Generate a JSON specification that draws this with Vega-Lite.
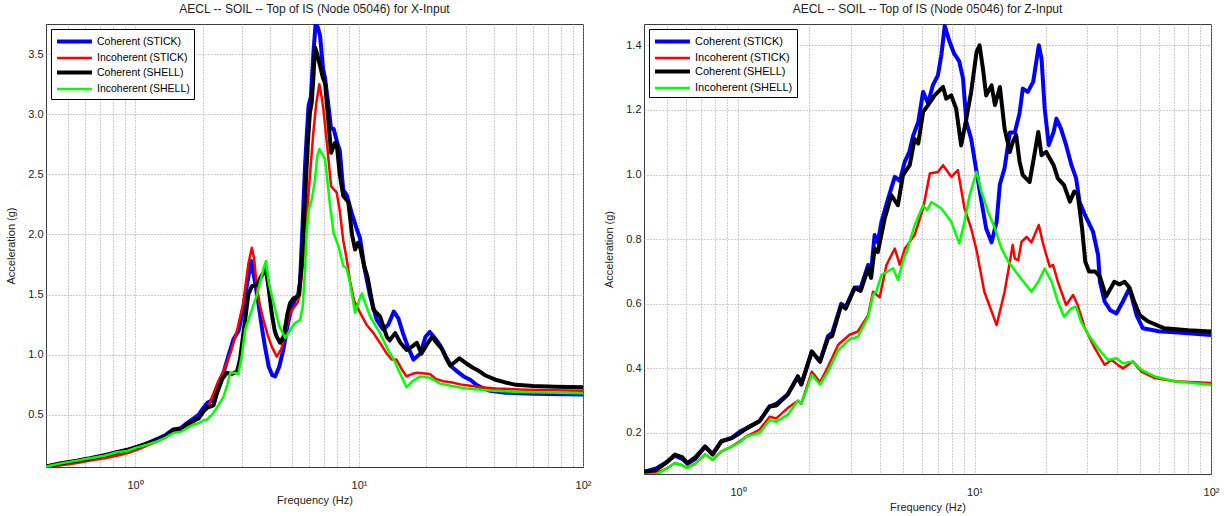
{
"$schema": "https://vega.github.io/schema/vega-lite/v6.json",
"background": "white",
"padding": {"left": 4, "top": 2, "right": 5, "bottom": 5},
"config": {
  "view": {"stroke": "#3a3a3a", "strokeWidth": 1},
  "font": "Liberation Sans",
  "axis": {"labelFont": "Liberation Sans", "titleFont": "Liberation Sans", "labelFontSize": 11, "titleFontSize": 11, "titleFontWeight": "normal", "labelColor": "#222222", "titleColor": "#222222", "gridColor": "#9a9a9a", "gridDash": [1, 2], "gridWidth": 1, "ticks": false, "domain": false},
  "title": {"font": "Liberation Sans", "fontSize": 12, "fontWeight": "normal", "color": "#222222", "offset": 8},
  "legend": {"orient": "top-left", "offset": 5, "strokeColor": "#000000", "fillColor": "#ffffff", "padding": 4, "symbolType": "M-1,0H4.38", "symbolSize": 169, "labelFontSize": 10.5, "labelFont": "Liberation Sans", "labelColor": "#000000", "rowPadding": 0, "labelOffset": 25, "cornerRadius": 0}
},
"datasets": {
"x": [
{"s":"Coherent (STICK)","f":0.40,"a":0.07},{"s":"Coherent (STICK)","f":0.46,"a":0.09},{"s":"Coherent (STICK)","f":0.55,"a":0.115},{"s":"Coherent (STICK)","f":0.63,"a":0.135},{"s":"Coherent (STICK)","f":0.73,"a":0.16},{"s":"Coherent (STICK)","f":0.83,"a":0.19},{"s":"Coherent (STICK)","f":0.92,"a":0.205},{"s":"Coherent (STICK)","f":1.02,"a":0.235},{"s":"Coherent (STICK)","f":1.12,"a":0.26},{"s":"Coherent (STICK)","f":1.25,"a":0.3},{"s":"Coherent (STICK)","f":1.36,"a":0.33},{"s":"Coherent (STICK)","f":1.48,"a":0.38},{"s":"Coherent (STICK)","f":1.6,"a":0.39},{"s":"Coherent (STICK)","f":1.7,"a":0.43},{"s":"Coherent (STICK)","f":1.82,"a":0.47},{"s":"Coherent (STICK)","f":1.92,"a":0.5},{"s":"Coherent (STICK)","f":2.02,"a":0.56},{"s":"Coherent (STICK)","f":2.1,"a":0.6},{"s":"Coherent (STICK)","f":2.2,"a":0.62},{"s":"Coherent (STICK)","f":2.32,"a":0.72},{"s":"Coherent (STICK)","f":2.48,"a":0.85},{"s":"Coherent (STICK)","f":2.6,"a":0.98},{"s":"Coherent (STICK)","f":2.75,"a":1.13},{"s":"Coherent (STICK)","f":2.9,"a":1.2},{"s":"Coherent (STICK)","f":3.05,"a":1.4},{"s":"Coherent (STICK)","f":3.15,"a":1.57},{"s":"Coherent (STICK)","f":3.3,"a":1.78},{"s":"Coherent (STICK)","f":3.4,"a":1.65},{"s":"Coherent (STICK)","f":3.55,"a":1.43},{"s":"Coherent (STICK)","f":3.7,"a":1.2},{"s":"Coherent (STICK)","f":3.8,"a":1.07},{"s":"Coherent (STICK)","f":3.95,"a":0.9},{"s":"Coherent (STICK)","f":4.1,"a":0.83},{"s":"Coherent (STICK)","f":4.22,"a":0.82},{"s":"Coherent (STICK)","f":4.4,"a":0.9},{"s":"Coherent (STICK)","f":4.6,"a":1.05},{"s":"Coherent (STICK)","f":4.8,"a":1.25},{"s":"Coherent (STICK)","f":4.95,"a":1.36},{"s":"Coherent (STICK)","f":5.18,"a":1.46},{"s":"Coherent (STICK)","f":5.35,"a":1.5},{"s":"Coherent (STICK)","f":5.45,"a":1.6},{"s":"Coherent (STICK)","f":5.6,"a":2.1},{"s":"Coherent (STICK)","f":5.74,"a":2.57},{"s":"Coherent (STICK)","f":5.85,"a":2.85},{"s":"Coherent (STICK)","f":5.95,"a":3.07},{"s":"Coherent (STICK)","f":6.1,"a":3.15},{"s":"Coherent (STICK)","f":6.25,"a":3.5},{"s":"Coherent (STICK)","f":6.4,"a":3.76},{"s":"Coherent (STICK)","f":6.55,"a":3.72},{"s":"Coherent (STICK)","f":6.7,"a":3.65},{"s":"Coherent (STICK)","f":6.9,"a":3.38},{"s":"Coherent (STICK)","f":7.05,"a":3.3},{"s":"Coherent (STICK)","f":7.3,"a":3.07},{"s":"Coherent (STICK)","f":7.5,"a":2.88},{"s":"Coherent (STICK)","f":7.7,"a":2.88},{"s":"Coherent (STICK)","f":8.0,"a":2.76},{"s":"Coherent (STICK)","f":8.2,"a":2.7},{"s":"Coherent (STICK)","f":8.5,"a":2.37},{"s":"Coherent (STICK)","f":8.8,"a":2.33},{"s":"Coherent (STICK)","f":9.27,"a":2.18},{"s":"Coherent (STICK)","f":9.75,"a":2.05},{"s":"Coherent (STICK)","f":10.1,"a":1.97},{"s":"Coherent (STICK)","f":10.6,"a":1.71},{"s":"Coherent (STICK)","f":11.2,"a":1.49},{"s":"Coherent (STICK)","f":12.0,"a":1.29},{"s":"Coherent (STICK)","f":12.8,"a":1.21},{"s":"Coherent (STICK)","f":13.5,"a":1.25},{"s":"Coherent (STICK)","f":14.3,"a":1.36},{"s":"Coherent (STICK)","f":15.0,"a":1.3},{"s":"Coherent (STICK)","f":15.7,"a":1.18},{"s":"Coherent (STICK)","f":16.5,"a":1.07},{"s":"Coherent (STICK)","f":17.5,"a":0.96},{"s":"Coherent (STICK)","f":18.8,"a":1.01},{"s":"Coherent (STICK)","f":19.8,"a":1.15},{"s":"Coherent (STICK)","f":20.7,"a":1.19},{"s":"Coherent (STICK)","f":21.8,"a":1.14},{"s":"Coherent (STICK)","f":23.0,"a":1.08},{"s":"Coherent (STICK)","f":24.5,"a":0.98},{"s":"Coherent (STICK)","f":25.9,"a":0.9},{"s":"Coherent (STICK)","f":27.5,"a":0.86},{"s":"Coherent (STICK)","f":29.3,"a":0.82},{"s":"Coherent (STICK)","f":31.5,"a":0.79},{"s":"Coherent (STICK)","f":33.4,"a":0.75},{"s":"Coherent (STICK)","f":36,"a":0.72},{"s":"Coherent (STICK)","f":38.5,"a":0.7},{"s":"Coherent (STICK)","f":45,"a":0.685},{"s":"Coherent (STICK)","f":60,"a":0.675},{"s":"Coherent (STICK)","f":100,"a":0.67},
{"s":"Incoherent (STICK)","f":0.40,"a":0.065},{"s":"Incoherent (STICK)","f":0.46,"a":0.08},{"s":"Incoherent (STICK)","f":0.55,"a":0.1},{"s":"Incoherent (STICK)","f":0.63,"a":0.12},{"s":"Incoherent (STICK)","f":0.73,"a":0.14},{"s":"Incoherent (STICK)","f":0.83,"a":0.16},{"s":"Incoherent (STICK)","f":0.92,"a":0.18},{"s":"Incoherent (STICK)","f":1.02,"a":0.21},{"s":"Incoherent (STICK)","f":1.12,"a":0.24},{"s":"Incoherent (STICK)","f":1.25,"a":0.28},{"s":"Incoherent (STICK)","f":1.36,"a":0.31},{"s":"Incoherent (STICK)","f":1.48,"a":0.36},{"s":"Incoherent (STICK)","f":1.6,"a":0.37},{"s":"Incoherent (STICK)","f":1.7,"a":0.41},{"s":"Incoherent (STICK)","f":1.82,"a":0.44},{"s":"Incoherent (STICK)","f":1.92,"a":0.47},{"s":"Incoherent (STICK)","f":2.02,"a":0.52},{"s":"Incoherent (STICK)","f":2.12,"a":0.57},{"s":"Incoherent (STICK)","f":2.24,"a":0.68},{"s":"Incoherent (STICK)","f":2.35,"a":0.78},{"s":"Incoherent (STICK)","f":2.5,"a":0.88},{"s":"Incoherent (STICK)","f":2.66,"a":1.01},{"s":"Incoherent (STICK)","f":2.85,"a":1.2},{"s":"Incoherent (STICK)","f":3.04,"a":1.43},{"s":"Incoherent (STICK)","f":3.2,"a":1.75},{"s":"Incoherent (STICK)","f":3.32,"a":1.89},{"s":"Incoherent (STICK)","f":3.4,"a":1.8},{"s":"Incoherent (STICK)","f":3.49,"a":1.57},{"s":"Incoherent (STICK)","f":3.6,"a":1.42},{"s":"Incoherent (STICK)","f":3.74,"a":1.29},{"s":"Incoherent (STICK)","f":3.9,"a":1.17},{"s":"Incoherent (STICK)","f":4.07,"a":1.07},{"s":"Incoherent (STICK)","f":4.29,"a":0.985},{"s":"Incoherent (STICK)","f":4.5,"a":1.05},{"s":"Incoherent (STICK)","f":4.7,"a":1.2},{"s":"Incoherent (STICK)","f":4.92,"a":1.35},{"s":"Incoherent (STICK)","f":5.15,"a":1.4},{"s":"Incoherent (STICK)","f":5.3,"a":1.43},{"s":"Incoherent (STICK)","f":5.45,"a":1.5},{"s":"Incoherent (STICK)","f":5.6,"a":1.75},{"s":"Incoherent (STICK)","f":5.74,"a":1.95},{"s":"Incoherent (STICK)","f":5.95,"a":2.35},{"s":"Incoherent (STICK)","f":6.1,"a":2.6},{"s":"Incoherent (STICK)","f":6.25,"a":2.85},{"s":"Incoherent (STICK)","f":6.45,"a":3.1},{"s":"Incoherent (STICK)","f":6.65,"a":3.25},{"s":"Incoherent (STICK)","f":6.8,"a":3.15},{"s":"Incoherent (STICK)","f":6.93,"a":3.04},{"s":"Incoherent (STICK)","f":7.2,"a":2.74},{"s":"Incoherent (STICK)","f":7.5,"a":2.4},{"s":"Incoherent (STICK)","f":7.94,"a":2.35},{"s":"Incoherent (STICK)","f":8.2,"a":2.2},{"s":"Incoherent (STICK)","f":8.5,"a":1.95},{"s":"Incoherent (STICK)","f":8.8,"a":1.8},{"s":"Incoherent (STICK)","f":9.1,"a":1.62},{"s":"Incoherent (STICK)","f":9.5,"a":1.45},{"s":"Incoherent (STICK)","f":10.1,"a":1.35},{"s":"Incoherent (STICK)","f":10.8,"a":1.25},{"s":"Incoherent (STICK)","f":11.6,"a":1.18},{"s":"Incoherent (STICK)","f":12.4,"a":1.1},{"s":"Incoherent (STICK)","f":13.3,"a":1.01},{"s":"Incoherent (STICK)","f":14.0,"a":0.96},{"s":"Incoherent (STICK)","f":14.7,"a":0.96},{"s":"Incoherent (STICK)","f":15.5,"a":0.88},{"s":"Incoherent (STICK)","f":16.3,"a":0.82},{"s":"Incoherent (STICK)","f":17.2,"a":0.84},{"s":"Incoherent (STICK)","f":18.1,"a":0.85},{"s":"Incoherent (STICK)","f":20.7,"a":0.84},{"s":"Incoherent (STICK)","f":22,"a":0.8},{"s":"Incoherent (STICK)","f":23.8,"a":0.78},{"s":"Incoherent (STICK)","f":26,"a":0.77},{"s":"Incoherent (STICK)","f":29,"a":0.75},{"s":"Incoherent (STICK)","f":35,"a":0.73},{"s":"Incoherent (STICK)","f":41,"a":0.72},{"s":"Incoherent (STICK)","f":55,"a":0.71},{"s":"Incoherent (STICK)","f":100,"a":0.7},
{"s":"Coherent (SHELL)","f":0.40,"a":0.07},{"s":"Coherent (SHELL)","f":0.46,"a":0.097},{"s":"Coherent (SHELL)","f":0.55,"a":0.12},{"s":"Coherent (SHELL)","f":0.63,"a":0.14},{"s":"Coherent (SHELL)","f":0.73,"a":0.165},{"s":"Coherent (SHELL)","f":0.83,"a":0.19},{"s":"Coherent (SHELL)","f":0.92,"a":0.21},{"s":"Coherent (SHELL)","f":1.02,"a":0.235},{"s":"Coherent (SHELL)","f":1.12,"a":0.26},{"s":"Coherent (SHELL)","f":1.25,"a":0.29},{"s":"Coherent (SHELL)","f":1.36,"a":0.32},{"s":"Coherent (SHELL)","f":1.48,"a":0.375},{"s":"Coherent (SHELL)","f":1.6,"a":0.38},{"s":"Coherent (SHELL)","f":1.7,"a":0.42},{"s":"Coherent (SHELL)","f":1.82,"a":0.45},{"s":"Coherent (SHELL)","f":1.92,"a":0.47},{"s":"Coherent (SHELL)","f":2.02,"a":0.53},{"s":"Coherent (SHELL)","f":2.1,"a":0.56},{"s":"Coherent (SHELL)","f":2.24,"a":0.58},{"s":"Coherent (SHELL)","f":2.32,"a":0.68},{"s":"Coherent (SHELL)","f":2.45,"a":0.8},{"s":"Coherent (SHELL)","f":2.57,"a":0.85},{"s":"Coherent (SHELL)","f":2.7,"a":0.84},{"s":"Coherent (SHELL)","f":2.85,"a":0.86},{"s":"Coherent (SHELL)","f":2.94,"a":0.96},{"s":"Coherent (SHELL)","f":3.1,"a":1.29},{"s":"Coherent (SHELL)","f":3.2,"a":1.5},{"s":"Coherent (SHELL)","f":3.32,"a":1.57},{"s":"Coherent (SHELL)","f":3.5,"a":1.58},{"s":"Coherent (SHELL)","f":3.65,"a":1.65},{"s":"Coherent (SHELL)","f":3.84,"a":1.71},{"s":"Coherent (SHELL)","f":3.95,"a":1.55},{"s":"Coherent (SHELL)","f":4.07,"a":1.35},{"s":"Coherent (SHELL)","f":4.2,"a":1.2},{"s":"Coherent (SHELL)","f":4.29,"a":1.15},{"s":"Coherent (SHELL)","f":4.44,"a":1.1},{"s":"Coherent (SHELL)","f":4.6,"a":1.15},{"s":"Coherent (SHELL)","f":4.8,"a":1.35},{"s":"Coherent (SHELL)","f":4.92,"a":1.43},{"s":"Coherent (SHELL)","f":5.1,"a":1.47},{"s":"Coherent (SHELL)","f":5.25,"a":1.48},{"s":"Coherent (SHELL)","f":5.38,"a":1.5},{"s":"Coherent (SHELL)","f":5.55,"a":1.75},{"s":"Coherent (SHELL)","f":5.74,"a":2.3},{"s":"Coherent (SHELL)","f":5.9,"a":2.75},{"s":"Coherent (SHELL)","f":6.03,"a":3.01},{"s":"Coherent (SHELL)","f":6.15,"a":3.1},{"s":"Coherent (SHELL)","f":6.25,"a":3.3},{"s":"Coherent (SHELL)","f":6.36,"a":3.555},{"s":"Coherent (SHELL)","f":6.5,"a":3.5},{"s":"Coherent (SHELL)","f":6.7,"a":3.4},{"s":"Coherent (SHELL)","f":6.9,"a":3.3},{"s":"Coherent (SHELL)","f":7.05,"a":3.26},{"s":"Coherent (SHELL)","f":7.25,"a":3.0},{"s":"Coherent (SHELL)","f":7.5,"a":2.68},{"s":"Coherent (SHELL)","f":7.8,"a":2.76},{"s":"Coherent (SHELL)","f":7.94,"a":2.76},{"s":"Coherent (SHELL)","f":8.2,"a":2.5},{"s":"Coherent (SHELL)","f":8.5,"a":2.32},{"s":"Coherent (SHELL)","f":8.95,"a":2.27},{"s":"Coherent (SHELL)","f":9.3,"a":2.0},{"s":"Coherent (SHELL)","f":9.6,"a":1.875},{"s":"Coherent (SHELL)","f":9.9,"a":1.93},{"s":"Coherent (SHELL)","f":10.1,"a":1.9},{"s":"Coherent (SHELL)","f":10.5,"a":1.75},{"s":"Coherent (SHELL)","f":10.9,"a":1.65},{"s":"Coherent (SHELL)","f":11.6,"a":1.375},{"s":"Coherent (SHELL)","f":12.4,"a":1.32},{"s":"Coherent (SHELL)","f":13.3,"a":1.15},{"s":"Coherent (SHELL)","f":13.7,"a":1.12},{"s":"Coherent (SHELL)","f":14.5,"a":1.18},{"s":"Coherent (SHELL)","f":15.3,"a":1.1},{"s":"Coherent (SHELL)","f":16.3,"a":1.04},{"s":"Coherent (SHELL)","f":17.3,"a":1.07},{"s":"Coherent (SHELL)","f":18.1,"a":1.1},{"s":"Coherent (SHELL)","f":19.0,"a":1.01},{"s":"Coherent (SHELL)","f":20.0,"a":1.08},{"s":"Coherent (SHELL)","f":21.2,"a":1.15},{"s":"Coherent (SHELL)","f":22.2,"a":1.1},{"s":"Coherent (SHELL)","f":23.4,"a":1.05},{"s":"Coherent (SHELL)","f":24.5,"a":0.97},{"s":"Coherent (SHELL)","f":25.5,"a":0.91},{"s":"Coherent (SHELL)","f":26.8,"a":0.94},{"s":"Coherent (SHELL)","f":28.1,"a":0.97},{"s":"Coherent (SHELL)","f":30,"a":0.93},{"s":"Coherent (SHELL)","f":32.4,"a":0.89},{"s":"Coherent (SHELL)","f":34,"a":0.87},{"s":"Coherent (SHELL)","f":36.5,"a":0.83},{"s":"Coherent (SHELL)","f":41.1,"a":0.79},{"s":"Coherent (SHELL)","f":45,"a":0.77},{"s":"Coherent (SHELL)","f":50,"a":0.75},{"s":"Coherent (SHELL)","f":60,"a":0.74},{"s":"Coherent (SHELL)","f":75,"a":0.735},{"s":"Coherent (SHELL)","f":100,"a":0.73},
{"s":"Incoherent (SHELL)","f":0.40,"a":0.07},{"s":"Incoherent (SHELL)","f":0.46,"a":0.095},{"s":"Incoherent (SHELL)","f":0.55,"a":0.12},{"s":"Incoherent (SHELL)","f":0.63,"a":0.14},{"s":"Incoherent (SHELL)","f":0.73,"a":0.16},{"s":"Incoherent (SHELL)","f":0.83,"a":0.19},{"s":"Incoherent (SHELL)","f":0.92,"a":0.2},{"s":"Incoherent (SHELL)","f":1.02,"a":0.23},{"s":"Incoherent (SHELL)","f":1.12,"a":0.25},{"s":"Incoherent (SHELL)","f":1.25,"a":0.28},{"s":"Incoherent (SHELL)","f":1.36,"a":0.31},{"s":"Incoherent (SHELL)","f":1.48,"a":0.35},{"s":"Incoherent (SHELL)","f":1.6,"a":0.36},{"s":"Incoherent (SHELL)","f":1.7,"a":0.39},{"s":"Incoherent (SHELL)","f":1.82,"a":0.42},{"s":"Incoherent (SHELL)","f":1.92,"a":0.43},{"s":"Incoherent (SHELL)","f":2.02,"a":0.455},{"s":"Incoherent (SHELL)","f":2.09,"a":0.46},{"s":"Incoherent (SHELL)","f":2.2,"a":0.5},{"s":"Incoherent (SHELL)","f":2.32,"a":0.56},{"s":"Incoherent (SHELL)","f":2.48,"a":0.65},{"s":"Incoherent (SHELL)","f":2.58,"a":0.75},{"s":"Incoherent (SHELL)","f":2.66,"a":0.85},{"s":"Incoherent (SHELL)","f":2.8,"a":0.85},{"s":"Incoherent (SHELL)","f":2.89,"a":0.84},{"s":"Incoherent (SHELL)","f":3.0,"a":1.0},{"s":"Incoherent (SHELL)","f":3.1,"a":1.21},{"s":"Incoherent (SHELL)","f":3.32,"a":1.375},{"s":"Incoherent (SHELL)","f":3.5,"a":1.5},{"s":"Incoherent (SHELL)","f":3.61,"a":1.6},{"s":"Incoherent (SHELL)","f":3.75,"a":1.72},{"s":"Incoherent (SHELL)","f":3.84,"a":1.78},{"s":"Incoherent (SHELL)","f":3.95,"a":1.6},{"s":"Incoherent (SHELL)","f":4.15,"a":1.43},{"s":"Incoherent (SHELL)","f":4.4,"a":1.24},{"s":"Incoherent (SHELL)","f":4.68,"a":1.14},{"s":"Incoherent (SHELL)","f":4.9,"a":1.2},{"s":"Incoherent (SHELL)","f":5.15,"a":1.26},{"s":"Incoherent (SHELL)","f":5.45,"a":1.29},{"s":"Incoherent (SHELL)","f":5.6,"a":1.4},{"s":"Incoherent (SHELL)","f":5.74,"a":1.71},{"s":"Incoherent (SHELL)","f":5.83,"a":2.01},{"s":"Incoherent (SHELL)","f":5.95,"a":2.2},{"s":"Incoherent (SHELL)","f":6.15,"a":2.29},{"s":"Incoherent (SHELL)","f":6.35,"a":2.45},{"s":"Incoherent (SHELL)","f":6.5,"a":2.65},{"s":"Incoherent (SHELL)","f":6.65,"a":2.71},{"s":"Incoherent (SHELL)","f":6.8,"a":2.68},{"s":"Incoherent (SHELL)","f":7.05,"a":2.625},{"s":"Incoherent (SHELL)","f":7.4,"a":2.26},{"s":"Incoherent (SHELL)","f":7.7,"a":2.01},{"s":"Incoherent (SHELL)","f":8.1,"a":1.9},{"s":"Incoherent (SHELL)","f":8.5,"a":1.74},{"s":"Incoherent (SHELL)","f":8.8,"a":1.72},{"s":"Incoherent (SHELL)","f":9.1,"a":1.6},{"s":"Incoherent (SHELL)","f":9.4,"a":1.45},{"s":"Incoherent (SHELL)","f":9.6,"a":1.35},{"s":"Incoherent (SHELL)","f":10.0,"a":1.45},{"s":"Incoherent (SHELL)","f":10.3,"a":1.51},{"s":"Incoherent (SHELL)","f":10.7,"a":1.42},{"s":"Incoherent (SHELL)","f":11.2,"a":1.32},{"s":"Incoherent (SHELL)","f":12.4,"a":1.18},{"s":"Incoherent (SHELL)","f":13.3,"a":1.06},{"s":"Incoherent (SHELL)","f":14.3,"a":0.96},{"s":"Incoherent (SHELL)","f":15.2,"a":0.85},{"s":"Incoherent (SHELL)","f":16.3,"a":0.73},{"s":"Incoherent (SHELL)","f":17.3,"a":0.78},{"s":"Incoherent (SHELL)","f":18.7,"a":0.82},{"s":"Incoherent (SHELL)","f":20.7,"a":0.81},{"s":"Incoherent (SHELL)","f":23,"a":0.76},{"s":"Incoherent (SHELL)","f":26,"a":0.74},{"s":"Incoherent (SHELL)","f":30,"a":0.72},{"s":"Incoherent (SHELL)","f":40,"a":0.7},{"s":"Incoherent (SHELL)","f":55,"a":0.69},{"s":"Incoherent (SHELL)","f":100,"a":0.68}
],
"z": [
{"s":"Coherent (STICK)","f":0.4,"a":0.08},{"s":"Coherent (STICK)","f":0.45,"a":0.09},{"s":"Coherent (STICK)","f":0.5,"a":0.11},{"s":"Coherent (STICK)","f":0.54,"a":0.13},{"s":"Coherent (STICK)","f":0.58,"a":0.12},{"s":"Coherent (STICK)","f":0.61,"a":0.105},{"s":"Coherent (STICK)","f":0.66,"a":0.12},{"s":"Coherent (STICK)","f":0.725,"a":0.158},{"s":"Coherent (STICK)","f":0.78,"a":0.135},{"s":"Coherent (STICK)","f":0.85,"a":0.175},{"s":"Coherent (STICK)","f":0.94,"a":0.185},{"s":"Coherent (STICK)","f":1.02,"a":0.205},{"s":"Coherent (STICK)","f":1.09,"a":0.215},{"s":"Coherent (STICK)","f":1.23,"a":0.236},{"s":"Coherent (STICK)","f":1.36,"a":0.282},{"s":"Coherent (STICK)","f":1.45,"a":0.29},{"s":"Coherent (STICK)","f":1.62,"a":0.32},{"s":"Coherent (STICK)","f":1.79,"a":0.375},{"s":"Coherent (STICK)","f":1.85,"a":0.35},{"s":"Coherent (STICK)","f":2.05,"a":0.452},{"s":"Coherent (STICK)","f":2.22,"a":0.421},{"s":"Coherent (STICK)","f":2.4,"a":0.5},{"s":"Coherent (STICK)","f":2.5,"a":0.51},{"s":"Coherent (STICK)","f":2.73,"a":0.6},{"s":"Coherent (STICK)","f":2.85,"a":0.59},{"s":"Coherent (STICK)","f":3.11,"a":0.65},{"s":"Coherent (STICK)","f":3.3,"a":0.65},{"s":"Coherent (STICK)","f":3.55,"a":0.72},{"s":"Coherent (STICK)","f":3.65,"a":0.7},{"s":"Coherent (STICK)","f":3.78,"a":0.813},{"s":"Coherent (STICK)","f":3.9,"a":0.79},{"s":"Coherent (STICK)","f":4.04,"a":0.854},{"s":"Coherent (STICK)","f":4.31,"a":0.926},{"s":"Coherent (STICK)","f":4.6,"a":0.993},{"s":"Coherent (STICK)","f":4.83,"a":0.98},{"s":"Coherent (STICK)","f":5.07,"a":1.04},{"s":"Coherent (STICK)","f":5.3,"a":1.07},{"s":"Coherent (STICK)","f":5.5,"a":1.12},{"s":"Coherent (STICK)","f":5.78,"a":1.163},{"s":"Coherent (STICK)","f":6.06,"a":1.256},{"s":"Coherent (STICK)","f":6.36,"a":1.22},{"s":"Coherent (STICK)","f":6.66,"a":1.276},{"s":"Coherent (STICK)","f":7.0,"a":1.307},{"s":"Coherent (STICK)","f":7.24,"a":1.37},{"s":"Coherent (STICK)","f":7.48,"a":1.46},{"s":"Coherent (STICK)","f":7.85,"a":1.41},{"s":"Coherent (STICK)","f":8.2,"a":1.374},{"s":"Coherent (STICK)","f":8.62,"a":1.35},{"s":"Coherent (STICK)","f":8.94,"a":1.297},{"s":"Coherent (STICK)","f":9.23,"a":1.163},{"s":"Coherent (STICK)","f":9.68,"a":1.11},{"s":"Coherent (STICK)","f":10.2,"a":1.008},{"s":"Coherent (STICK)","f":10.7,"a":0.916},{"s":"Coherent (STICK)","f":11.2,"a":0.833},{"s":"Coherent (STICK)","f":11.8,"a":0.79},{"s":"Coherent (STICK)","f":12.4,"a":0.854},{"s":"Coherent (STICK)","f":12.8,"a":0.97},{"s":"Coherent (STICK)","f":13.4,"a":1.02},{"s":"Coherent (STICK)","f":14.1,"a":1.13},{"s":"Coherent (STICK)","f":14.8,"a":1.13},{"s":"Coherent (STICK)","f":15.5,"a":1.19},{"s":"Coherent (STICK)","f":16.0,"a":1.266},{"s":"Coherent (STICK)","f":16.8,"a":1.256},{"s":"Coherent (STICK)","f":17.7,"a":1.287},{"s":"Coherent (STICK)","f":18.7,"a":1.4},{"s":"Coherent (STICK)","f":19.2,"a":1.359},{"s":"Coherent (STICK)","f":19.8,"a":1.204},{"s":"Coherent (STICK)","f":20.6,"a":1.091},{"s":"Coherent (STICK)","f":21.6,"a":1.132},{"s":"Coherent (STICK)","f":22.2,"a":1.173},{"s":"Coherent (STICK)","f":23.2,"a":1.142},{"s":"Coherent (STICK)","f":24.4,"a":1.091},{"s":"Coherent (STICK)","f":25.7,"a":1.029},{"s":"Coherent (STICK)","f":26.9,"a":0.988},{"s":"Coherent (STICK)","f":27.8,"a":0.916},{"s":"Coherent (STICK)","f":29.3,"a":0.875},{"s":"Coherent (STICK)","f":31.7,"a":0.823},{"s":"Coherent (STICK)","f":33.3,"a":0.751},{"s":"Coherent (STICK)","f":33.9,"a":0.668},{"s":"Coherent (STICK)","f":35.5,"a":0.607},{"s":"Coherent (STICK)","f":37.5,"a":0.58},{"s":"Coherent (STICK)","f":39.8,"a":0.57},{"s":"Coherent (STICK)","f":42.4,"a":0.607},{"s":"Coherent (STICK)","f":45.2,"a":0.648},{"s":"Coherent (STICK)","f":48.4,"a":0.565},{"s":"Coherent (STICK)","f":51.5,"a":0.524},{"s":"Coherent (STICK)","f":60,"a":0.515},{"s":"Coherent (STICK)","f":75,"a":0.51},{"s":"Coherent (STICK)","f":100,"a":0.503},
{"s":"Incoherent (STICK)","f":0.4,"a":0.075},{"s":"Incoherent (STICK)","f":0.45,"a":0.075},{"s":"Incoherent (STICK)","f":0.5,"a":0.09},{"s":"Incoherent (STICK)","f":0.54,"a":0.107},{"s":"Incoherent (STICK)","f":0.58,"a":0.1},{"s":"Incoherent (STICK)","f":0.61,"a":0.092},{"s":"Incoherent (STICK)","f":0.66,"a":0.105},{"s":"Incoherent (STICK)","f":0.725,"a":0.134},{"s":"Incoherent (STICK)","f":0.78,"a":0.117},{"s":"Incoherent (STICK)","f":0.85,"a":0.143},{"s":"Incoherent (STICK)","f":0.94,"a":0.158},{"s":"Incoherent (STICK)","f":1.02,"a":0.175},{"s":"Incoherent (STICK)","f":1.09,"a":0.19},{"s":"Incoherent (STICK)","f":1.23,"a":0.21},{"s":"Incoherent (STICK)","f":1.36,"a":0.25},{"s":"Incoherent (STICK)","f":1.45,"a":0.245},{"s":"Incoherent (STICK)","f":1.62,"a":0.277},{"s":"Incoherent (STICK)","f":1.79,"a":0.3},{"s":"Incoherent (STICK)","f":1.85,"a":0.29},{"s":"Incoherent (STICK)","f":2.05,"a":0.39},{"s":"Incoherent (STICK)","f":2.22,"a":0.357},{"s":"Incoherent (STICK)","f":2.4,"a":0.405},{"s":"Incoherent (STICK)","f":2.65,"a":0.473},{"s":"Incoherent (STICK)","f":2.96,"a":0.504},{"s":"Incoherent (STICK)","f":3.21,"a":0.514},{"s":"Incoherent (STICK)","f":3.55,"a":0.565},{"s":"Incoherent (STICK)","f":3.72,"a":0.637},{"s":"Incoherent (STICK)","f":3.97,"a":0.62},{"s":"Incoherent (STICK)","f":4.24,"a":0.72},{"s":"Incoherent (STICK)","f":4.6,"a":0.771},{"s":"Incoherent (STICK)","f":4.83,"a":0.72},{"s":"Incoherent (STICK)","f":5.07,"a":0.77},{"s":"Incoherent (STICK)","f":5.3,"a":0.79},{"s":"Incoherent (STICK)","f":5.58,"a":0.813},{"s":"Incoherent (STICK)","f":6.06,"a":0.895},{"s":"Incoherent (STICK)","f":6.47,"a":1.003},{"s":"Incoherent (STICK)","f":7.0,"a":1.008},{"s":"Incoherent (STICK)","f":7.36,"a":1.029},{"s":"Incoherent (STICK)","f":7.97,"a":0.993},{"s":"Incoherent (STICK)","f":8.5,"a":1.014},{"s":"Incoherent (STICK)","f":9.07,"a":0.895},{"s":"Incoherent (STICK)","f":9.68,"a":0.833},{"s":"Incoherent (STICK)","f":10.2,"a":0.765},{"s":"Incoherent (STICK)","f":11.0,"a":0.637},{"s":"Incoherent (STICK)","f":12.4,"a":0.534},{"s":"Incoherent (STICK)","f":13.4,"a":0.637},{"s":"Incoherent (STICK)","f":14.1,"a":0.73},{"s":"Incoherent (STICK)","f":14.5,"a":0.782},{"s":"Incoherent (STICK)","f":14.8,"a":0.74},{"s":"Incoherent (STICK)","f":15.3,"a":0.735},{"s":"Incoherent (STICK)","f":15.8,"a":0.792},{"s":"Incoherent (STICK)","f":16.6,"a":0.807},{"s":"Incoherent (STICK)","f":17.4,"a":0.79},{"s":"Incoherent (STICK)","f":18.7,"a":0.844},{"s":"Incoherent (STICK)","f":19.4,"a":0.792},{"s":"Incoherent (STICK)","f":20.1,"a":0.751},{"s":"Incoherent (STICK)","f":20.8,"a":0.715},{"s":"Incoherent (STICK)","f":21.5,"a":0.72},{"s":"Incoherent (STICK)","f":22.5,"a":0.668},{"s":"Incoherent (STICK)","f":24.4,"a":0.596},{"s":"Incoherent (STICK)","f":26.1,"a":0.627},{"s":"Incoherent (STICK)","f":27.3,"a":0.596},{"s":"Incoherent (STICK)","f":29.3,"a":0.524},{"s":"Incoherent (STICK)","f":32.3,"a":0.462},{"s":"Incoherent (STICK)","f":35.5,"a":0.411},{"s":"Incoherent (STICK)","f":38.0,"a":0.426},{"s":"Incoherent (STICK)","f":40.5,"a":0.41},{"s":"Incoherent (STICK)","f":42.4,"a":0.4},{"s":"Incoherent (STICK)","f":46.8,"a":0.421},{"s":"Incoherent (STICK)","f":50.8,"a":0.39},{"s":"Incoherent (STICK)","f":57.8,"a":0.37},{"s":"Incoherent (STICK)","f":70,"a":0.36},{"s":"Incoherent (STICK)","f":100,"a":0.355},
{"s":"Coherent (SHELL)","f":0.4,"a":0.08},{"s":"Coherent (SHELL)","f":0.45,"a":0.085},{"s":"Coherent (SHELL)","f":0.5,"a":0.11},{"s":"Coherent (SHELL)","f":0.54,"a":0.133},{"s":"Coherent (SHELL)","f":0.58,"a":0.125},{"s":"Coherent (SHELL)","f":0.61,"a":0.107},{"s":"Coherent (SHELL)","f":0.66,"a":0.125},{"s":"Coherent (SHELL)","f":0.725,"a":0.158},{"s":"Coherent (SHELL)","f":0.78,"a":0.133},{"s":"Coherent (SHELL)","f":0.85,"a":0.174},{"s":"Coherent (SHELL)","f":0.94,"a":0.184},{"s":"Coherent (SHELL)","f":1.02,"a":0.2},{"s":"Coherent (SHELL)","f":1.09,"a":0.215},{"s":"Coherent (SHELL)","f":1.23,"a":0.236},{"s":"Coherent (SHELL)","f":1.36,"a":0.282},{"s":"Coherent (SHELL)","f":1.45,"a":0.285},{"s":"Coherent (SHELL)","f":1.62,"a":0.318},{"s":"Coherent (SHELL)","f":1.79,"a":0.375},{"s":"Coherent (SHELL)","f":1.85,"a":0.35},{"s":"Coherent (SHELL)","f":2.05,"a":0.452},{"s":"Coherent (SHELL)","f":2.22,"a":0.421},{"s":"Coherent (SHELL)","f":2.4,"a":0.493},{"s":"Coherent (SHELL)","f":2.5,"a":0.5},{"s":"Coherent (SHELL)","f":2.73,"a":0.596},{"s":"Coherent (SHELL)","f":2.85,"a":0.585},{"s":"Coherent (SHELL)","f":3.11,"a":0.648},{"s":"Coherent (SHELL)","f":3.3,"a":0.64},{"s":"Coherent (SHELL)","f":3.55,"a":0.71},{"s":"Coherent (SHELL)","f":3.65,"a":0.68},{"s":"Coherent (SHELL)","f":3.78,"a":0.771},{"s":"Coherent (SHELL)","f":3.9,"a":0.76},{"s":"Coherent (SHELL)","f":4.17,"a":0.864},{"s":"Coherent (SHELL)","f":4.45,"a":0.936},{"s":"Coherent (SHELL)","f":4.74,"a":0.905},{"s":"Coherent (SHELL)","f":4.98,"a":0.998},{"s":"Coherent (SHELL)","f":5.32,"a":1.029},{"s":"Coherent (SHELL)","f":5.58,"a":1.11},{"s":"Coherent (SHELL)","f":5.78,"a":1.096},{"s":"Coherent (SHELL)","f":6.06,"a":1.194},{"s":"Coherent (SHELL)","f":6.36,"a":1.215},{"s":"Coherent (SHELL)","f":6.78,"a":1.245},{"s":"Coherent (SHELL)","f":7.36,"a":1.271},{"s":"Coherent (SHELL)","f":7.59,"a":1.235},{"s":"Coherent (SHELL)","f":7.97,"a":1.245},{"s":"Coherent (SHELL)","f":8.36,"a":1.204},{"s":"Coherent (SHELL)","f":8.78,"a":1.09},{"s":"Coherent (SHELL)","f":9.23,"a":1.173},{"s":"Coherent (SHELL)","f":9.68,"a":1.256},{"s":"Coherent (SHELL)","f":10.2,"a":1.38},{"s":"Coherent (SHELL)","f":10.5,"a":1.4},{"s":"Coherent (SHELL)","f":10.85,"a":1.328},{"s":"Coherent (SHELL)","f":11.2,"a":1.245},{"s":"Coherent (SHELL)","f":11.8,"a":1.276},{"s":"Coherent (SHELL)","f":12.2,"a":1.215},{"s":"Coherent (SHELL)","f":12.8,"a":1.271},{"s":"Coherent (SHELL)","f":13.4,"a":1.142},{"s":"Coherent (SHELL)","f":14.1,"a":1.07},{"s":"Coherent (SHELL)","f":14.5,"a":1.1},{"s":"Coherent (SHELL)","f":15.0,"a":1.122},{"s":"Coherent (SHELL)","f":15.5,"a":1.04},{"s":"Coherent (SHELL)","f":16.0,"a":0.998},{"s":"Coherent (SHELL)","f":17.1,"a":0.977},{"s":"Coherent (SHELL)","f":18.0,"a":1.07},{"s":"Coherent (SHELL)","f":18.6,"a":1.132},{"s":"Coherent (SHELL)","f":19.2,"a":1.06},{"s":"Coherent (SHELL)","f":20.1,"a":1.07},{"s":"Coherent (SHELL)","f":21.6,"a":1.029},{"s":"Coherent (SHELL)","f":22.5,"a":0.988},{"s":"Coherent (SHELL)","f":23.9,"a":0.967},{"s":"Coherent (SHELL)","f":25.3,"a":0.916},{"s":"Coherent (SHELL)","f":26.4,"a":0.947},{"s":"Coherent (SHELL)","f":27.3,"a":0.94},{"s":"Coherent (SHELL)","f":28.5,"a":0.833},{"s":"Coherent (SHELL)","f":29.4,"a":0.73},{"s":"Coherent (SHELL)","f":30.5,"a":0.7},{"s":"Coherent (SHELL)","f":32.3,"a":0.7},{"s":"Coherent (SHELL)","f":33.9,"a":0.684},{"s":"Coherent (SHELL)","f":36.0,"a":0.622},{"s":"Coherent (SHELL)","f":39.0,"a":0.668},{"s":"Coherent (SHELL)","f":41,"a":0.66},{"s":"Coherent (SHELL)","f":43.1,"a":0.668},{"s":"Coherent (SHELL)","f":45.2,"a":0.65},{"s":"Coherent (SHELL)","f":47.3,"a":0.607},{"s":"Coherent (SHELL)","f":49.9,"a":0.565},{"s":"Coherent (SHELL)","f":54.3,"a":0.545},{"s":"Coherent (SHELL)","f":63.6,"a":0.524},{"s":"Coherent (SHELL)","f":80,"a":0.518},{"s":"Coherent (SHELL)","f":100,"a":0.514},
{"s":"Incoherent (SHELL)","f":0.4,"a":0.07},{"s":"Incoherent (SHELL)","f":0.45,"a":0.072},{"s":"Incoherent (SHELL)","f":0.5,"a":0.09},{"s":"Incoherent (SHELL)","f":0.54,"a":0.107},{"s":"Incoherent (SHELL)","f":0.58,"a":0.1},{"s":"Incoherent (SHELL)","f":0.61,"a":0.092},{"s":"Incoherent (SHELL)","f":0.66,"a":0.105},{"s":"Incoherent (SHELL)","f":0.725,"a":0.134},{"s":"Incoherent (SHELL)","f":0.78,"a":0.117},{"s":"Incoherent (SHELL)","f":0.85,"a":0.143},{"s":"Incoherent (SHELL)","f":0.94,"a":0.158},{"s":"Incoherent (SHELL)","f":1.02,"a":0.172},{"s":"Incoherent (SHELL)","f":1.09,"a":0.19},{"s":"Incoherent (SHELL)","f":1.23,"a":0.2},{"s":"Incoherent (SHELL)","f":1.36,"a":0.24},{"s":"Incoherent (SHELL)","f":1.45,"a":0.235},{"s":"Incoherent (SHELL)","f":1.62,"a":0.256},{"s":"Incoherent (SHELL)","f":1.79,"a":0.3},{"s":"Incoherent (SHELL)","f":1.85,"a":0.29},{"s":"Incoherent (SHELL)","f":2.05,"a":0.38},{"s":"Incoherent (SHELL)","f":2.22,"a":0.35},{"s":"Incoherent (SHELL)","f":2.4,"a":0.39},{"s":"Incoherent (SHELL)","f":2.65,"a":0.456},{"s":"Incoherent (SHELL)","f":2.96,"a":0.49},{"s":"Incoherent (SHELL)","f":3.21,"a":0.498},{"s":"Incoherent (SHELL)","f":3.55,"a":0.56},{"s":"Incoherent (SHELL)","f":3.72,"a":0.627},{"s":"Incoherent (SHELL)","f":3.85,"a":0.64},{"s":"Incoherent (SHELL)","f":4.04,"a":0.689},{"s":"Incoherent (SHELL)","f":4.52,"a":0.71},{"s":"Incoherent (SHELL)","f":4.74,"a":0.674},{"s":"Incoherent (SHELL)","f":5.07,"a":0.751},{"s":"Incoherent (SHELL)","f":5.16,"a":0.76},{"s":"Incoherent (SHELL)","f":5.58,"a":0.843},{"s":"Incoherent (SHELL)","f":6.06,"a":0.905},{"s":"Incoherent (SHELL)","f":6.3,"a":0.89},{"s":"Incoherent (SHELL)","f":6.57,"a":0.915},{"s":"Incoherent (SHELL)","f":7.24,"a":0.895},{"s":"Incoherent (SHELL)","f":7.97,"a":0.854},{"s":"Incoherent (SHELL)","f":8.62,"a":0.787},{"s":"Incoherent (SHELL)","f":9.07,"a":0.854},{"s":"Incoherent (SHELL)","f":9.53,"a":0.936},{"s":"Incoherent (SHELL)","f":10.2,"a":1.008},{"s":"Incoherent (SHELL)","f":10.7,"a":0.946},{"s":"Incoherent (SHELL)","f":11.4,"a":0.885},{"s":"Incoherent (SHELL)","f":12.2,"a":0.833},{"s":"Incoherent (SHELL)","f":13.0,"a":0.771},{"s":"Incoherent (SHELL)","f":13.9,"a":0.73},{"s":"Incoherent (SHELL)","f":15.3,"a":0.689},{"s":"Incoherent (SHELL)","f":17.4,"a":0.637},{"s":"Incoherent (SHELL)","f":18.6,"a":0.668},{"s":"Incoherent (SHELL)","f":19.8,"a":0.709},{"s":"Incoherent (SHELL)","f":21.2,"a":0.668},{"s":"Incoherent (SHELL)","f":22.5,"a":0.606},{"s":"Incoherent (SHELL)","f":23.9,"a":0.56},{"s":"Incoherent (SHELL)","f":25.7,"a":0.586},{"s":"Incoherent (SHELL)","f":26.9,"a":0.591},{"s":"Incoherent (SHELL)","f":28.2,"a":0.545},{"s":"Incoherent (SHELL)","f":30.3,"a":0.504},{"s":"Incoherent (SHELL)","f":33.3,"a":0.462},{"s":"Incoherent (SHELL)","f":36.6,"a":0.426},{"s":"Incoherent (SHELL)","f":39.8,"a":0.431},{"s":"Incoherent (SHELL)","f":42.4,"a":0.416},{"s":"Incoherent (SHELL)","f":46.8,"a":0.421},{"s":"Incoherent (SHELL)","f":50.8,"a":0.395},{"s":"Incoherent (SHELL)","f":57.8,"a":0.375},{"s":"Incoherent (SHELL)","f":70,"a":0.36},{"s":"Incoherent (SHELL)","f":100,"a":0.349}
]
},
"hconcat": [
{
  "width": 537, "height": 443,
  "title": "AECL -- SOIL -- Top of IS (Node 05046) for X-Input",
  "data": {"name": "x"},
  "mark": {"type": "line", "clip": true, "strokeJoin": "round"},
  "encoding": {
    "x": {"field": "f", "type": "quantitative", "scale": {"type": "log", "domain": [0.4, 100], "nice": false},
      "axis": {"title": "Frequency (Hz)", "values": [0.5,0.6,0.7,0.8,0.9,1,2,3,4,5,6,7,8,9,10,20,30,40,50,60,70,80,90,100], "labelExpr": "datum.value == 1 ? '10⁰' : datum.value == 10 ? '10¹' : datum.value == 100 ? '10²' : ''", "labelOverlap": false, "labelFlush": false, "labelPadding": 12, "titlePadding": 4}},
    "y": {"field": "a", "type": "quantitative", "scale": {"domain": [0.067, 3.75], "nice": false, "zero": false},
      "axis": {"title": "Acceleration (g)", "values": [0.5,1,1.5,2,2.5,3,3.5], "minExtent": 28, "maxExtent": 28, "titlePadding": 2, "labelPadding": 3}},
    "color": {"field": "s", "type": "nominal", "scale": {"domain": ["Coherent (STICK)","Incoherent (STICK)","Coherent (SHELL)","Incoherent (SHELL)"], "range": ["#0000ff","#ff0000","#000000","#00ff00"]}, "legend": {"title": null}},
    "strokeWidth": {"field": "s", "type": "nominal", "scale": {"type": "ordinal", "domain": ["Coherent (STICK)","Incoherent (STICK)","Coherent (SHELL)","Incoherent (SHELL)"], "range": [4, 2.5, 4, 2.5]}, "legend": {"title": null}}
  }
},
{
  "width": 567, "height": 450,
  "title": "AECL -- SOIL -- Top of IS (Node 05046) for Z-Input",
  "data": {"name": "z"},
  "mark": {"type": "line", "clip": true, "strokeJoin": "round"},
  "encoding": {
    "x": {"field": "f", "type": "quantitative", "scale": {"type": "log", "domain": [0.4, 100], "nice": false},
      "axis": {"title": "Frequency (Hz)", "values": [0.5,0.6,0.7,0.8,0.9,1,2,3,4,5,6,7,8,9,10,20,30,40,50,60,70,80,90,100], "labelExpr": "datum.value == 1 ? '10⁰' : datum.value == 10 ? '10¹' : datum.value == 100 ? '10²' : ''", "labelOverlap": false, "labelFlush": false, "labelPadding": 12, "titlePadding": 4}},
    "y": {"field": "a", "type": "quantitative", "scale": {"domain": [0.073, 1.466], "nice": false, "zero": false},
      "axis": {"title": "Acceleration (g)", "values": [0.2,0.4,0.6,0.8,1,1.2,1.4], "minExtent": 28, "maxExtent": 28, "titlePadding": 2, "labelPadding": 3}},
    "color": {"field": "s", "type": "nominal", "scale": {"domain": ["Coherent (STICK)","Incoherent (STICK)","Coherent (SHELL)","Incoherent (SHELL)"], "range": ["#0000ff","#ff0000","#000000","#00ff00"]}, "legend": {"title": null, "labelFontSize": 11}},
    "strokeWidth": {"field": "s", "type": "nominal", "scale": {"type": "ordinal", "domain": ["Coherent (STICK)","Incoherent (STICK)","Coherent (SHELL)","Incoherent (SHELL)"], "range": [4, 2.5, 4, 2.5]}, "legend": {"title": null, "labelFontSize": 11}}
  }
}
],
"spacing": 10,
"resolve": {"scale": {"x": "independent", "y": "independent", "color": "independent", "strokeWidth": "independent"}, "legend": {"color": "independent", "strokeWidth": "independent"}}
}
